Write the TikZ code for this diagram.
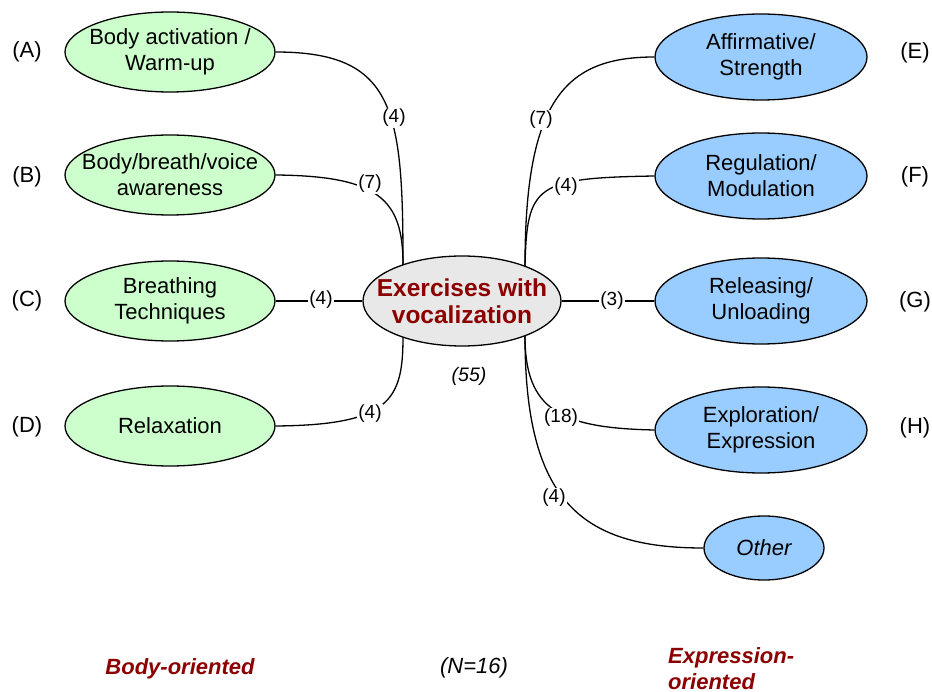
\documentclass[tikz,border=0pt]{standalone}
\usepackage{fontspec}
\setmainfont{Liberation Sans}
\usetikzlibrary{shapes.geometric}
\definecolor{leafgreen}{HTML}{CCFFCC}
\definecolor{leafblue}{HTML}{99CCFF}
\definecolor{hubgray}{HTML}{E8E8E8}
\definecolor{darkred}{RGB}{140,0,0}
\begin{document}
\begin{tikzpicture}[x=1pt,y=-1pt,
  leaf/.style={ellipse, draw=black, line width=1.3pt, inner xsep=-40pt, inner ysep=-12pt,
    align=center, font=\fontsize{22}{26}\selectfont},
  bodyleaf/.style={leaf, fill=leafgreen, minimum width=210pt, minimum height=80pt},
  exprleaf/.style={leaf, fill=leafblue, minimum width=212pt, minimum height=86pt},
  hub/.style={ellipse, draw=black, line width=1.3pt, fill=hubgray, inner xsep=-40pt,
    inner ysep=-12pt, minimum width=198pt, minimum height=90pt, align=center, text=darkred,
    font=\bfseries\fontsize{24.5}{27}\selectfont},
  count/.style={fill=white, inner sep=1.5pt, font=\fontsize{19}{21}\selectfont},
  tag/.style={font=\fontsize{22}{26}\selectfont},
  group/.style={text=darkred, font=\bfseries\itshape\fontsize{22}{26}\selectfont},
  link/.style={draw=black, line width=1.3pt}]

\useasboundingbox[fill=white] (0,0) rectangle (932,692);

% central topic
\node[hub] (hub) at (462,301) {Exercises with\\vocalization};
\node[font=\itshape\fontsize{19.5}{21}\selectfont] (total) at (469,376) {(55)};

% body-oriented branches
\node[bodyleaf] (A) at (170,52)  {Body activation /\\Warm-up};
\node[bodyleaf] (B) at (170,175) {Body/breath/voice\\awareness};
\node[bodyleaf] (C) at (170,301) {Breathing\\Techniques};
\node[bodyleaf] (D) at (170,426) {Relaxation};

% expression-oriented branches
\node[exprleaf] (E) at (761,57)  {Affirmative/\\Strength};
\node[exprleaf] (F) at (761,176) {Regulation/\\Modulation};
\node[exprleaf] (G) at (761,301) {Releasing/\\Unloading};
\node[exprleaf] (H) at (761,430) {Exploration/\\Expression};
\node[leaf, fill=leafblue, minimum width=120pt, minimum height=64pt,
      font=\itshape\fontsize{22}{26}\selectfont] (O) at (764,548) {Other};

% branch letters
\node[tag] (tA) at (27,52)  {(A)};
\node[tag] (tB) at (27,177) {(B)};
\node[tag] (tC) at (27,301) {(C)};
\node[tag] (tD) at (27,427) {(D)};
\node[tag] (tE) at (915,53)  {(E)};
\node[tag] (tF) at (915,177) {(F)};
\node[tag] (tG) at (915,302) {(G)};
\node[tag] (tH) at (915,428) {(H)};

% trunk points on the central ellipse
\coordinate (jlt) at (403,265);
\coordinate (jlb) at (403,337);
\coordinate (jrt) at (525,266);
\coordinate (jrb) at (525,336);

% connectors, left side
\draw[link] (A.east) .. controls (395,52) and (403,110) .. (jlt);
\draw[link] (B.east) .. controls (380,176) and (403,200) .. (jlt);
\draw[link] (C.east) -- (hub.west);
\draw[link] (jlb) .. controls (403,400) and (390,425) .. (D.east);

% connectors, right side
\draw[link] (jrt) .. controls (525,100) and (565,57) .. (E.west);
\draw[link] (jrt) .. controls (527,185) and (535,178) .. (F.west);
\draw[link] (hub.east) -- (G.west);
\draw[link] (jrb) .. controls (525,410) and (560,428) .. (H.west);
\draw[link] (jrb) .. controls (525,500) and (580,548) .. (O.west);

% counts
\node[count] (nA) at (394,118) {(4)};
\node[count] (nB) at (370,184) {(7)};
\node[count] (nC) at (321,300) {(4)};
\node[count] (nD) at (370,414) {(4)};
\node[count] (nE) at (541,120) {(7)};
\node[count] (nF) at (566,187) {(4)};
\node[count] (nG) at (612,301) {(3)};
\node[count] (nH) at (561,418) {(18)};
\node[count] (nO) at (554,498) {(4)};

% group captions
\node[group] (gbody) at (180,669) {Body-oriented};
\node[font=\itshape\fontsize{22}{26}\selectfont] (gN) at (474,668) {(N=16)};
\node[group, align=left, anchor=west, inner sep=0pt] (gexpr) at (668,669) {Expression-\\oriented};
\end{tikzpicture}
\end{document}
